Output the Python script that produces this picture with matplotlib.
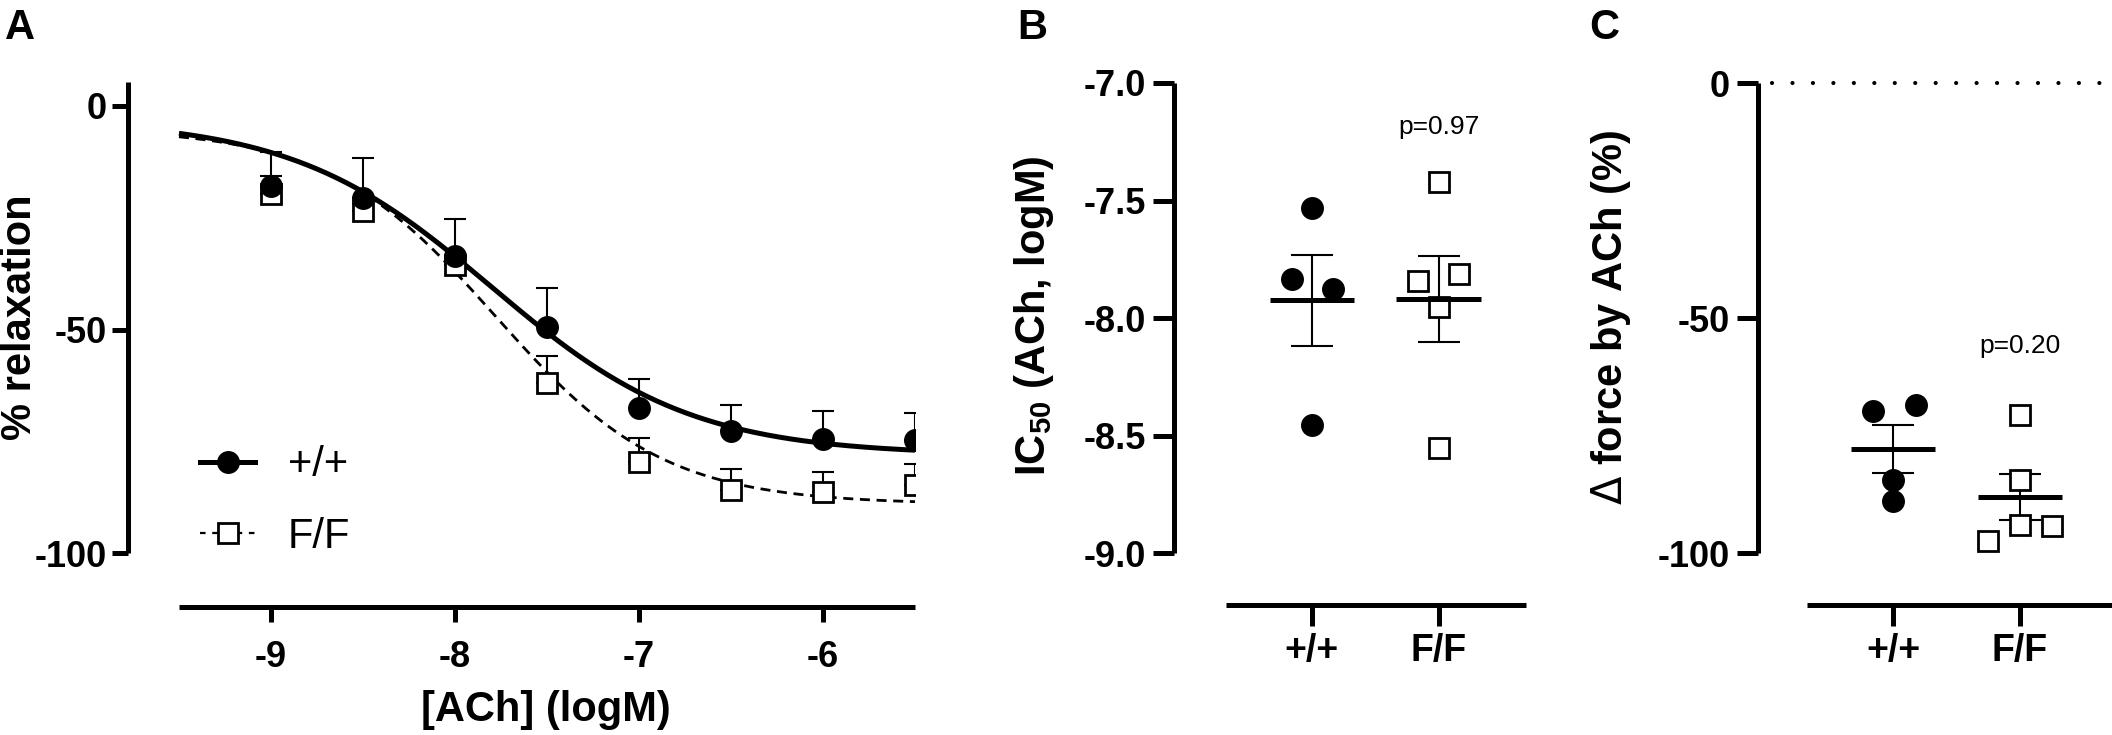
import numpy as np
import matplotlib
matplotlib.use("Agg")
import matplotlib.pyplot as plt
from matplotlib.lines import Line2D

# ---------------- data ----------------
log_ach = [-9.0, -8.5, -8.0, -7.5, -7.0, -6.5, -6.0, -5.5]
wt_mean = [-17.8, -20.5, -33.5, -49.5, -67.4, -72.6, -74.4, -74.7]
wt_sem = [7.6, 8.8, 8.2, 8.8, 6.3, 5.7, 6.2, 6.0]
ff_mean = [-19.6, -23.4, -35.6, -62.0, -79.6, -85.9, -86.3, -84.8]
ff_sem = [4.0, 1.5, 1.5, 6.2, 5.5, 4.8, 4.6, 4.8]

# fitted sigmoid parameters (top, bottom, logIC50, hill slope)
wt_fit = (-3.0, -78.0, -7.80, 0.80)
ff_fit = (-5.0, -89.0, -7.78, 0.95)

groups = ["+/+", "F/F"]
ic50_wt = [-7.533, -7.832, -7.878, -8.455]
ic50_ff = [-7.421, -7.844, -7.814, -7.953, -8.554]
ic50_jit_wt = [0.0, -0.16, 0.17, 0.0]
ic50_jit_ff = [0.0, -0.16, 0.16, 0.0, 0.0]
ic50_p = "p=0.97"

force_wt = [-69.7, -68.4, -84.4, -88.8]
force_ff = [-70.5, -84.4, -97.3, -93.9, -94.1]
force_jit_wt = [-0.16, 0.18, 0.0, 0.0]
force_jit_ff = [0.0, 0.0, -0.25, 0.0, 0.25]
force_p = "p=0.20"

# ---------------- style ----------------
plt.rcParams["font.family"] = ["Liberation Sans", "DejaVu Sans"]
plt.rcParams["axes.unicode_minus"] = False
plt.rcParams["mathtext.fontset"] = "custom"
plt.rcParams["mathtext.rm"] = "Liberation Sans:bold"
plt.rcParams["mathtext.it"] = "Liberation Sans:bold"
plt.rcParams["mathtext.bf"] = "Liberation Sans:bold"
plt.rcParams["mathtext.sf"] = "DejaVu Sans"

W, H = 2112, 735
fig = plt.figure(figsize=(W / 100, H / 100), dpi=100)

SPW = 3.6     # spine width (pt)
TICKFS = 26
LABFS = 30
MS_C = 15.5
MS_S = 14


def px_axes(x0, x1, ytop, ybot):
    return fig.add_axes([x0 / W, 1 - ybot / H, (x1 - x0) / W, (ybot - ytop) / H])


def style(ax):
    for s in ["top", "right"]:
        ax.spines[s].set_visible(False)
    for s in ["left", "bottom"]:
        ax.spines[s].set_linewidth(SPW)
        ax.spines[s].set_capstyle("butt")
    ax.patch.set_alpha(0)


def hill(x, top, bottom, logic50, slope):
    return bottom + (top - bottom) / (1 + 10 ** ((x - logic50) * slope))


# ---------------- panel A ----------------
axA = px_axes(128, 915, 81.7, 606.7)
style(axA)
axA.set_xlim(-9.777, -5.5)
axA.set_ylim(-111.9, 5.4)
axA.spines["left"].set_bounds(-100, 5.4)
axA.spines["bottom"].set_bounds(-9.5, -5.5)
axA.set_yticks([0, -50, -100])
axA.set_xticks([-9, -8, -7, -6])
axA.tick_params(axis="y", length=11.5, width=SPW, pad=4, labelsize=TICKFS)
axA.tick_params(axis="x", length=11, width=SPW, pad=13, labelsize=TICKFS)
for lab in axA.get_xticklabels() + axA.get_yticklabels():
    lab.set_fontweight("bold")

xs = np.linspace(-9.5, -5.5, 300)
axA.plot(xs, hill(xs, *wt_fit), color="k", lw=3.6, zorder=2, solid_capstyle="butt")
axA.plot(xs, hill(xs, *ff_fit), color="k", lw=2.0, dashes=(3.6, 2.4), zorder=2)

zeros = np.zeros(len(log_ach))
axA.errorbar(log_ach, ff_mean, yerr=[zeros, ff_sem], fmt="none", ecolor="k",
             elinewidth=1.5, capsize=8, capthick=1.5, zorder=3)
axA.plot(log_ach, ff_mean, "s", ms=MS_S, mfc="white", mec="k", mew=2.0, zorder=4)
axA.errorbar(log_ach, wt_mean, yerr=[zeros, wt_sem], fmt="none", ecolor="k",
             elinewidth=1.5, capsize=8, capthick=1.5, zorder=5)
axA.plot(log_ach, wt_mean, "o", ms=MS_C, mfc="k", mec="k", zorder=6)

h_wt = Line2D([], [], color="k", lw=3.6, marker="o", ms=MS_C, mfc="k", mec="k")
h_ff = Line2D([], [], color="k", lw=1.6, dashes=(2.5, 3.0), marker="s", ms=MS_S,
              mfc="white", mec="k", mew=2.0)
leg = axA.legend([h_wt, h_ff], groups, loc="center left",
                 bbox_to_anchor=(200 / W, 1 - 501 / H), bbox_transform=fig.transFigure,
                 frameon=False, fontsize=30, handlelength=1.32, handletextpad=0.79,
                 labelspacing=0.75, borderpad=0, borderaxespad=0)

fig.text(546 / W, 1 - 710 / H, "[ACh] (logM)", ha="center", va="center",
         fontsize=LABFS, fontweight="bold")
fig.text(20 / W, 1 - 317 / H, "% relaxation", ha="center", va="center",
         rotation=90, fontsize=LABFS, fontweight="bold")
fig.text(5 / W, 1 - 8 / H, "A", ha="left", va="top", fontsize=30, fontweight="bold")


# ---------------- scatter panels ----------------
def scatter_panel(ax, wt, ff, jw, jf):
    for i, (vals, jit) in enumerate([(wt, jw), (ff, jf)]):
        vals = np.asarray(vals)
        x = i + np.asarray(jit)
        if i == 0:
            ax.plot(x, vals, "o", ms=MS_C, mfc="k", mec="k", zorder=3, clip_on=False)
        else:
            ax.plot(x, vals, "s", ms=MS_S, mfc="white", mec="k", mew=2.0, zorder=3,
                    clip_on=False)
        m = vals.mean()
        sem = vals.std(ddof=1) / np.sqrt(len(vals))
        ax.errorbar([i], [m], yerr=[sem], fmt="none", ecolor="k", elinewidth=1.5,
                    capsize=15, capthick=1.5, zorder=2)
        ax.hlines(m, i - 0.333, i + 0.333, color="k", lw=3.6, zorder=4)
    ax.set_xticks([0, 1])
    ax.set_xticklabels(groups, fontsize=27, fontweight="bold")
    ax.tick_params(axis="x", length=15, width=SPW, pad=5)
    ax.tick_params(axis="y", length=15, width=SPW, pad=5, labelsize=TICKFS)
    for lab in ax.get_yticklabels():
        lab.set_fontweight("bold")


# ---------------- panel B ----------------
axB = px_axes(1174, 1526, 83, 605)
style(axB)
axB.set_xlim(-1.088, 1.69)
axB.set_ylim(-9.22, -7.0)
axB.spines["left"].set_bounds(-9.0, -7.0)
axB.spines["bottom"].set_bounds(-0.68, 1.69)
axB.set_yticks([-7.0, -7.5, -8.0, -8.5, -9.0])
axB.set_yticklabels(["%.1f" % v for v in [-7.0, -7.5, -8.0, -8.5, -9.0]])
scatter_panel(axB, ic50_wt, ic50_ff, ic50_jit_wt, ic50_jit_ff)
axB.text(1, -7.186, ic50_p, ha="center", va="center", fontsize=19)
fig.text(1034 / W, 1 - 316 / H, r"IC$_{50}$ (ACh, logM)", ha="center", va="center",
         rotation=90, fontsize=LABFS, fontweight="bold")
fig.text(1017 / W, 1 - 8 / H, "B", ha="left", va="top", fontsize=30, fontweight="bold")

# ---------------- panel C ----------------
axC = px_axes(1758, 2112, 83.4, 605)
style(axC)
axC.set_xlim(-1.068, 1.727)
axC.set_ylim(-111, 0)
axC.spines["left"].set_bounds(-100, 0)
axC.spines["bottom"].set_bounds(-0.684, 1.727)
axC.set_yticks([0, -50, -100])
scatter_panel(axC, force_wt, force_ff, force_jit_wt, force_jit_ff)
axC.axhline(0, xmin=0.04, xmax=1, color="k", lw=3.0, dashes=(0.01, 4.9),
            dash_capstyle="round", clip_on=False, zorder=1)
axC.text(1, -55.8, force_p, ha="center", va="center", fontsize=19)
fig.text(1611 / W, 1 - 317 / H, r"$\mathsf{\Delta}$ force by ACh (%)", ha="center",
         va="center", rotation=90, fontsize=LABFS, fontweight="bold")
fig.text(1589 / W, 1 - 8 / H, "C", ha="left", va="top", fontsize=30, fontweight="bold")

fig.savefig("out.png", dpi=100)
